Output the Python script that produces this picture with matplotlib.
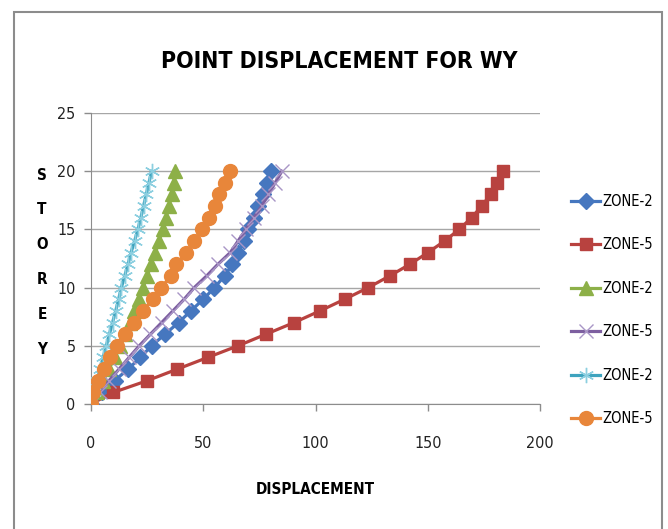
import matplotlib
matplotlib.use("Agg")
import matplotlib.pyplot as plt
from matplotlib.patches import Rectangle

plt.rcParams['font.family'] = ['DejaVu Sans']
plt.rcParams['font.stretch'] = 'condensed'

# data
story = list(range(21))
zone2_a = [0, 5, 10.5, 16.5, 22, 27, 33, 39, 44.5, 50, 55, 59.5, 63, 65.5, 68,
           70, 72.5, 74.5, 76.5, 78.5, 80]
zone5_a = [0, 10, 25, 38.5, 52, 65.5, 78, 90.5, 102, 113, 123.5, 133, 142, 150,
           157.5, 164, 169.5, 174, 178, 181, 183.5]
zone2_b = [0, 2.8, 5.5, 8, 10.5, 12.8, 15, 17.2, 19.3, 21.3, 23.2, 25, 26.9,
           28.7, 30.4, 32, 33.4, 34.7, 35.9, 36.8, 37.5]
zone5_b = [0, 4, 8, 12.5, 17, 21.5, 26.5, 31.5, 36.5, 41.5, 46, 51.5, 56.5, 62,
           65.5, 69, 72.5, 76, 79, 82, 85]
zone2_c = [0, 1.3, 2.7, 4, 5.4, 6.8, 8.2, 9.6, 11, 12.3, 13.5, 15, 16.5, 17.8,
           19.4, 20.9, 22.2, 23.4, 24.6, 25.8, 27]
zone5_c = [0, 1, 2.9, 5.6, 8.5, 11.5, 15, 19, 23, 27.5, 31.3, 35.5, 38, 42.5,
           46, 49.4, 52.5, 55.3, 57, 59.5, 62]

labels = ["ZONE-2", "ZONE-5", "ZONE-2", "ZONE-5", "ZONE-2", "ZONE-5"]

fig = plt.figure(figsize=(6.68, 5.29), dpi=100)
ax = fig.add_axes([91 / 668, 1 - 404 / 529, (540 - 91) / 668, (404 - 113) / 529])

# outer chart border
fig.patches.append(Rectangle((14 / 668, -0.05), (662 - 14) / 668, 1 - 12 / 529 + 0.05,
                             transform=fig.transFigure, fill=False,
                             edgecolor='#8c8c8c', linewidth=1.5))

lw = 2.3
ax.plot(zone2_a, story, color='#4677BF', lw=lw, marker='D', ms=8.5,
        label=labels[0], zorder=3)
ax.plot(zone5_a, story, color='#B8423F', lw=lw, marker='s', ms=9,
        label=labels[1], zorder=3)
ax.plot(zone2_b, story, color='#8DB048', lw=lw, marker='^', ms=10,
        label=labels[2], zorder=3)
ax.plot(zone5_b, story, color='#7D5FA0', lw=lw, marker='x', ms=10, mew=1,
        mec='#A996C6', label=labels[3], zorder=3)
ax.plot(zone2_c, story, color='#3DA3BE', lw=lw, marker=(6, 2, 0), ms=11, mew=1,
        mec='#8CCFE0', label=labels[4], zorder=3)
ax.plot(zone5_c, story, color='#E8863A', lw=lw, marker='o', ms=10,
        label=labels[5], zorder=3)

ax.set_xlim(0, 200)
ax.set_ylim(0, 25)
ax.set_xticks(range(0, 201, 50))
ax.set_yticks(range(0, 26, 5))
ax.yaxis.grid(True, color='#a6a6a6', lw=1)
ax.set_axisbelow(True)
for side in ['top', 'right']:
    ax.spines[side].set_visible(False)
for side in ['left', 'bottom']:
    ax.spines[side].set_color('#8c8c8c')
ax.tick_params(axis='both', colors='#8c8c8c', labelcolor='#222222',
               labelsize=11.5, length=5, width=1)
ax.tick_params(axis='x', pad=18)
ax.tick_params(axis='y', pad=6)

fig.text(339 / 668, 1 - 62 / 529, "POINT DISPLACEMENT FOR WY", ha='center',
         va='center', fontsize=16.5, fontweight='bold')
fig.text(315 / 668, 1 - 490 / 529, "DISPLACEMENT", ha='center', va='center',
         fontsize=11, fontweight='bold')
fig.text(42 / 668, 1 - 262 / 529, "S\nT\nO\nR\nE\nY", ha='center', va='center',
         fontsize=11, fontweight='bold', linespacing=2.65)

fig.legend(loc='center left', bbox_to_anchor=(571 / 668, 1 - 310 / 529),
           frameon=False, fontsize=10.5, handlelength=2.0, handletextpad=0.15,
           labelspacing=1.95, borderpad=0, borderaxespad=0)

fig.savefig("out.png", dpi=100)
